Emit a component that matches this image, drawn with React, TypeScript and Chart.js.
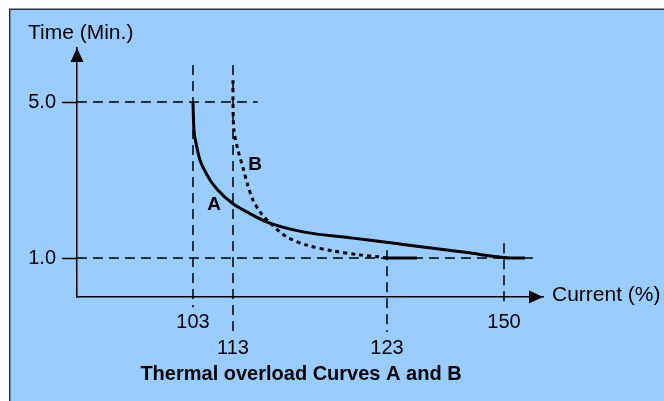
import React, { useEffect, useRef } from 'react';
import { Chart, registerables, LinearScale } from 'chart.js';

// ---------------- data ----------------
const currentTicks = [103, 113, 123, 150];
const currentTickRow = [0, 1, 1, 0]; // 1 = label on the second (lower) row
const timeTicks = [1.0, 5.0];

const curveACurrent = [103, 103.125, 103.25, 103.75, 104.75, 106.0, 107.25, 109.25, 112.75, 113.91, 115.21, 117.55, 120.79, 126.0, 133.6, 141.5, 147.5, 151.5, 155.4];
const curveATime = [5.0, 4.54, 4.28, 3.95, 3.51, 3.23, 3.0, 2.74, 2.41, 2.18, 1.92, 1.67, 1.51, 1.36, 1.25, 1.14, 1.045, 1.0, 1.0];

const curveBCurrent = [113, 113, 113.06, 113.32, 113.65, 113.97, 114.29, 114.75, 115.4, 116.5, 117.8, 119.5, 121.2, 122.5, 123, 129.9];
const curveBTime = [5.56, 5.0, 4.28, 3.77, 3.31, 2.85, 2.49, 2.18, 1.9, 1.54, 1.33, 1.18, 1.08, 1.03, 1.0, 1.0];

const guideCurrent = [103, 113, 123, 150];
const guideTop = [5.95, 5.95, 1.2, 1.38];
const guideBottom = [-0.26, -0.9, -0.9, -0.26];
const guideTime = [5.0, 1.0];
const guideTimeEnd = [114.6, 157.4];

const curveLabels = ['A', 'B'];
const curveLabelCurrent = [108.25, 114.43];
const curveLabelTime = [2.36, 3.38];

const chartTitle = 'Thermal overload Curves A and B';
const yAxisTitle = 'Time (Min.)';
const xAxisTitle = 'Current (%)';

// schematic (non-linear) current axis: value knots -> fraction of axis length
const X_KNOT_VALUES = [100, 103, 113, 123, 150, 160];
const X_KNOT_FRACTIONS = [0, 0.2489, 0.3348, 0.6652, 0.9163, 1];

class PiecewiseScale extends LinearScale {
  static id = 'piecewise';
  static defaults = {};
  getPixelForValue(value: number) {
    const vs = X_KNOT_VALUES, fs = X_KNOT_FRACTIONS;
    let i = 0;
    while (i < vs.length - 2 && value > vs[i + 1]) i++;
    const f = fs[i] + ((value - vs[i]) * (fs[i + 1] - fs[i])) / (vs[i + 1] - vs[i]);
    return this.getPixelForDecimal(f);
  }
  getValueForPixel(pixel: number) {
    const vs = X_KNOT_VALUES, fs = X_KNOT_FRACTIONS;
    const f = this.getDecimalForPixel(pixel);
    let i = 0;
    while (i < fs.length - 2 && f > fs[i + 1]) i++;
    return vs[i] + ((f - fs[i]) * (vs[i + 1] - vs[i])) / (fs[i + 1] - fs[i]);
  }
}

Chart.register(...registerables, PiecewiseScale);

const FONT = '"Liberation Sans", Arial, Helvetica, sans-serif';
const BLUE = '#99ccff';

const pts = (xs: number[], ys: number[]) => xs.map((x, i) => ({ x, y: ys[i] }));

const decorPlugin = {
  id: 'decor',
  beforeDraw(chart: any) {
    const { ctx, width, height } = chart;
    ctx.save();
    ctx.fillStyle = '#ffffff';
    ctx.fillRect(0, 0, width, height);
    ctx.fillStyle = BLUE;
    ctx.fillRect(9, 9, width - 9, height - 9);
    ctx.strokeStyle = '#333333';
    ctx.lineWidth = 1.5;
    ctx.beginPath();
    ctx.moveTo(9.75, height);
    ctx.lineTo(9.75, 9.25);
    ctx.lineTo(width, 9.25);
    ctx.stroke();
    ctx.restore();
  },
  afterDraw(chart: any) {
    const { ctx, chartArea: a, scales } = chart;
    const x = scales.x, y = scales.y;
    ctx.save();
    ctx.fillStyle = '#000';
    // y arrow
    ctx.beginPath();
    ctx.moveTo(a.left, a.top);
    ctx.lineTo(a.left - 6.5, a.top + 14);
    ctx.lineTo(a.left + 6.5, a.top + 14);
    ctx.closePath();
    ctx.fill();
    // x arrow
    ctx.beginPath();
    ctx.moveTo(a.right, a.bottom);
    ctx.lineTo(a.right - 14, a.bottom - 6.5);
    ctx.lineTo(a.right - 14, a.bottom + 6.5);
    ctx.closePath();
    ctx.fill();

    ctx.textBaseline = 'middle';
    ctx.font = `21px ${FONT}`;
    ctx.textAlign = 'left';
    ctx.fillText(yAxisTitle, a.left - 49, a.top - 15);
    ctx.fillText(xAxisTitle, a.right + 9, a.bottom - 2);

    ctx.font = `bold 20px ${FONT}`;
    ctx.textAlign = 'center';
    ctx.fillText(chartTitle, a.left + 224, a.bottom + 77);

    ctx.font = `bold 19px ${FONT}`;
    curveLabels.forEach((t, i) => {
      ctx.fillText(t, x.getPixelForValue(curveLabelCurrent[i]), y.getPixelForValue(curveLabelTime[i]));
    });
    ctx.restore();
  },
};

export default function App() {
  const ref = useRef<HTMLCanvasElement>(null);
  useEffect(() => {
    const curveStyle = {
      borderColor: '#000',
      borderWidth: 3,
      pointRadius: 0,
      showLine: true,
      fill: false,
      tension: 0.3,
      clip: false as any,
    };
    const guideStyle = {
      borderColor: '#000',
      borderWidth: 1.5,
      borderDash: [10, 6],
      pointRadius: 0,
      showLine: true,
      fill: false,
      tension: 0,
      clip: false as any,
    };
    const datasets: any[] = [
      { label: 'A', data: pts(curveACurrent, curveATime), ...curveStyle, cubicInterpolationMode: 'monotone' },
      {
        label: 'B',
        data: pts(curveBCurrent, curveBTime),
        ...curveStyle,
        borderDash: [4, 4],
        segment: { borderDash: (c: any) => (c.p0.parsed.x >= 123 ? [] : undefined) },
      },
    ];
    guideCurrent.forEach((c, i) => {
      datasets.push({ label: `g${c}`, data: [{ x: c, y: guideTop[i] }, { x: c, y: guideBottom[i] }], ...guideStyle });
    });
    guideTime.forEach((t, i) => {
      datasets.push({ label: `h${t}`, data: [{ x: 100, y: t }, { x: guideTimeEnd[i], y: t }], ...guideStyle });
    });

    const chart = new Chart(ref.current!, {
      type: 'scatter',
      data: { datasets },
      plugins: [decorPlugin],
      options: {
        responsive: false,
        animation: false,
        devicePixelRatio: 1,
        events: [],
        layout: { padding: { top: 48, right: 121, left: 0, bottom: 0 } },
        plugins: { legend: { display: false }, tooltip: { enabled: false }, title: { display: false } },
        scales: {
          x: {
            type: 'piecewise' as any,
            min: 100,
            max: 160,
            afterBuildTicks: (s: any) => {
              s.ticks = currentTicks.map((v) => ({ value: v }));
            },
            afterFit: (s: any) => {
              s.height = 104;
            },
            ticks: {
              autoSkip: false,
              maxRotation: 0,
              minRotation: 0,
              padding: 12,
              color: '#000',
              font: { family: FONT, size: 20, lineHeight: 1.3 },
              callback: (v: any, i: number) => (currentTickRow[i] ? ['', String(v)] : String(v)),
            },
            grid: { drawOnChartArea: false, drawTicks: false },
            border: { display: true, color: '#000', width: 1.5 },
          },
          y: {
            type: 'linear',
            min: 0,
            max: 6.385,
            afterBuildTicks: (s: any) => {
              s.ticks = timeTicks.map((v) => ({ value: v }));
            },
            afterFit: (s: any) => {
              s.width = 77;
            },
            ticks: {
              padding: 6,
              color: '#000',
              font: { family: FONT, size: 20 },
              callback: (v: any) => Number(v).toFixed(1),
            },
            grid: { drawOnChartArea: false, drawTicks: true, tickLength: 15, tickColor: '#000', tickWidth: 1.5 },
            border: { display: true, color: '#000', width: 1.5 },
          },
        },
      } as any,
    });
    return () => chart.destroy();
  }, []);
  return (
    <div style={{ position: 'fixed', left: 0, top: 0, width: 664, height: 401 }}>
      <canvas ref={ref} width={664} height={401} style={{ display: 'block' }} />
    </div>
  );
}
